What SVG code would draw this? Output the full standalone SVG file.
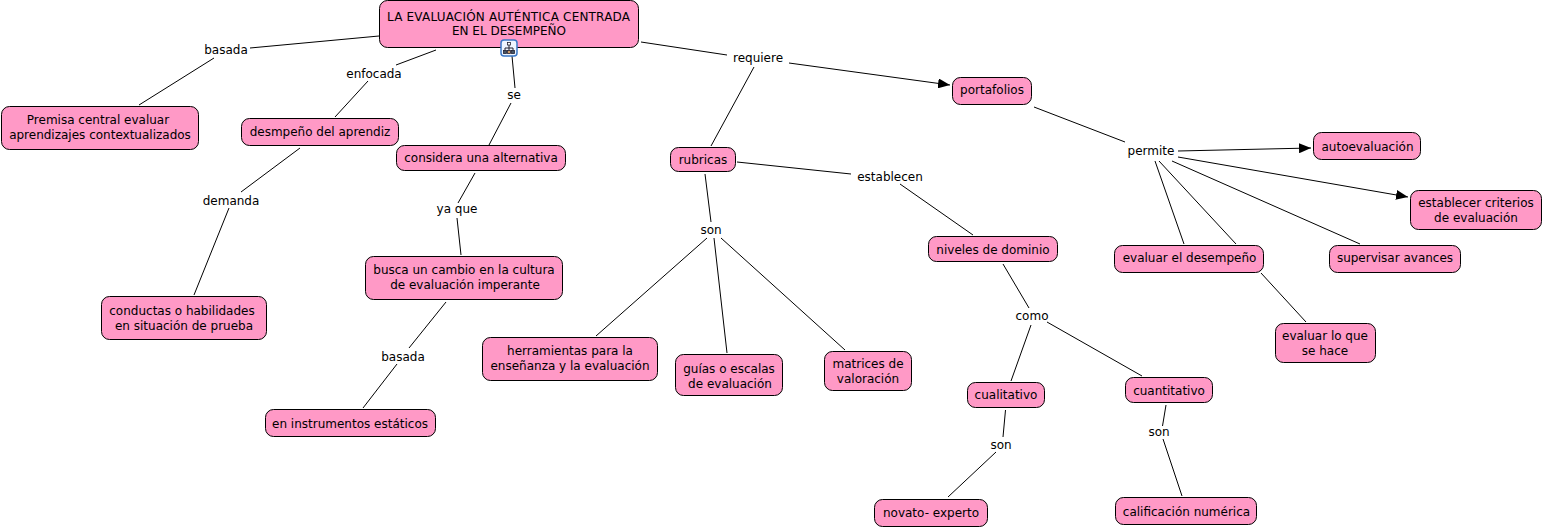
<svg xmlns="http://www.w3.org/2000/svg" width="1543" height="529" viewBox="0 0 1543 529">
<style>
text{font-family:"DejaVu Sans",Verdana,sans-serif;font-size:12px;fill:#000;text-anchor:middle}
.n rect{fill:#ff99c6;stroke:#000;stroke-width:1}
#connectors line{stroke:#000;stroke-width:1;fill:none}
.a{marker-end:url(#arr)}
</style>
<defs><marker id="arr" markerUnits="userSpaceOnUse" markerWidth="12" markerHeight="10" refX="12" refY="5" orient="auto"><path d="M0 0L12 5L0 10Z" fill="#000"/></marker></defs>
<rect width="1543" height="529" fill="#fff"/>
<g id="connectors">
<line x1="379" y1="36" x2="250" y2="48"/><line x1="214" y1="58" x2="139" y2="105"/>
<line x1="436" y1="50" x2="396" y2="65"/><line x1="368" y1="81" x2="335" y2="117"/>
<line x1="512" y1="56" x2="515" y2="88"/><line x1="511" y1="103" x2="489" y2="145"/>
<line x1="641" y1="42" x2="727" y2="55"/><line x1="789" y1="63" x2="950" y2="85" class="a"/>
<line x1="754" y1="67" x2="711" y2="146"/>
<line x1="300" y1="148" x2="241" y2="192"/><line x1="229" y1="208" x2="194" y2="295"/>
<line x1="475" y1="173" x2="458" y2="203"/><line x1="457" y1="218" x2="461" y2="255"/>
<line x1="446" y1="302" x2="409" y2="348"/><line x1="397" y1="364" x2="363" y2="408"/>
<line x1="705" y1="174" x2="711" y2="222"/><line x1="707" y1="238" x2="596" y2="336"/><line x1="714" y1="238" x2="727" y2="353"/><line x1="721" y1="238" x2="845" y2="350"/>
<line x1="737" y1="162" x2="851" y2="174"/><line x1="900" y1="184" x2="973" y2="235"/>
<line x1="1003" y1="264" x2="1029" y2="308"/><line x1="1031" y1="325" x2="1011" y2="381"/><line x1="1047" y1="322" x2="1142" y2="376"/>
<line x1="1005.500" y1="410" x2="1003" y2="437"/><line x1="996" y1="452" x2="948" y2="497"/>
<line x1="1166" y1="405" x2="1162.500" y2="426"/><line x1="1163" y1="439" x2="1182" y2="496"/>
<line x1="1034" y1="107" x2="1125" y2="142"/>
<line x1="1178" y1="151" x2="1311" y2="148" class="a"/><line x1="1178" y1="157" x2="1408" y2="197" class="a"/>
<line x1="1155" y1="161" x2="1184" y2="244"/><line x1="1159" y1="161" x2="1236" y2="244"/><line x1="1172" y1="161" x2="1360" y2="244"/>
<line x1="1261" y1="273" x2="1306" y2="322"/>
</g>
<g id="linking-labels">
<text x="226" y="54">basada</text><text x="374" y="78">enfocada</text><text x="514" y="99">se</text><text x="758" y="62">requiere</text>
<text x="231" y="205">demanda</text><text x="457" y="213">ya que</text><text x="403" y="361">basada</text>
<text x="711" y="234">son</text><text x="890" y="181">establecen</text><text x="1032" y="320">como</text><text x="1001" y="449">son</text><text x="1159" y="436">son</text><text x="1151" y="155">permite</text>
</g>
<g id="n1" class="n"><rect x="379.500" y="0.500" width="259" height="47" rx="8"/><text x="508.500" y="21" textLength="243" lengthAdjust="spacing">LA EVALUACIÓN AUTÉNTICA CENTRADA</text><text x="509" y="35">EN EL DESEMPEÑO</text></g>
<g id="n1-icon"><rect x="501" y="40" width="16" height="16" rx="3" fill="#eef5ff" stroke="#3a78c8" stroke-width="1.500"/><path d="M509 44V48M505 52V48H513V52M509 48V52" stroke="#223" fill="none"/><rect x="507.500" y="42.500" width="3" height="2.500" fill="#fff" stroke="#223" stroke-width=".8"/><rect x="503.500" y="50.500" width="3" height="3" fill="#456" stroke="#223" stroke-width=".8"/><rect x="507.500" y="50.500" width="3" height="3" fill="#c96" stroke="#223" stroke-width=".8"/><rect x="511.500" y="50.500" width="3" height="3" fill="#456" stroke="#223" stroke-width=".8"/></g>
<g id="n2" class="n"><rect x="1.500" y="106.500" width="197" height="43" rx="8"/><text x="98" y="124">Premisa central evaluar</text><text x="100" y="139">aprendizajes contextualizados</text></g>
<g id="n3" class="n"><rect x="241.500" y="118.500" width="157" height="27" rx="8"/><text x="320" y="136">desmpeño del aprendiz</text></g>
<g id="n4" class="n"><rect x="396.500" y="145.500" width="169" height="25" rx="8"/><text x="481" y="162">considera una alternativa</text></g>
<g id="n5" class="n"><rect x="670.500" y="147.500" width="65" height="24" rx="8"/><text x="703" y="164">rubricas</text></g>
<g id="n6" class="n"><rect x="952.500" y="77.500" width="79" height="27" rx="8"/><text x="992" y="94">portafolios</text></g>
<g id="n7" class="n"><rect x="1313.500" y="132.500" width="107" height="27" rx="8"/><text x="1367.500" y="151">autoevaluación</text></g>
<g id="n8" class="n"><rect x="1410.500" y="190.500" width="131" height="39" rx="8"/><text x="1476" y="207">establecer criterios</text><text x="1476" y="222">de evaluación</text></g>
<g id="n9" class="n"><rect x="1114.500" y="245.500" width="149" height="27" rx="8"/><text x="1189.500" y="262">evaluar el desempeño</text></g>
<g id="n10" class="n"><rect x="1329.500" y="245.500" width="131" height="27" rx="8"/><text x="1395" y="262">supervisar avances</text></g>
<g id="n11" class="n"><rect x="1275.500" y="323.500" width="100" height="39" rx="8"/><text x="1325" y="340">evaluar lo que</text><text x="1325" y="355">se hace</text></g>
<g id="n12" class="n"><rect x="928.500" y="236.500" width="129" height="25" rx="8"/><text x="993" y="254">niveles de dominio</text></g>
<g id="n13" class="n"><rect x="101.500" y="296.500" width="165" height="43" rx="8"/><text x="182" y="315">conductas o habilidades</text><text x="184" y="330">en situación de prueba</text></g>
<g id="n14" class="n"><rect x="365.500" y="256.500" width="197" height="43" rx="8"/><text x="464" y="274">busca un cambio en la cultura</text><text x="465" y="289">de evaluación imperante</text></g>
<g id="n15" class="n"><rect x="265.500" y="409.500" width="170" height="27" rx="8"/><text x="350" y="428">en instrumentos estáticos</text></g>
<g id="n16" class="n"><rect x="482.500" y="337.500" width="175" height="43" rx="8"/><text x="570" y="355">herramientas para la</text><text x="570" y="370">enseñanza y la evaluación</text></g>
<g id="n17" class="n"><rect x="675.500" y="354.500" width="107" height="41" rx="8"/><text x="729" y="373">guías o escalas</text><text x="730" y="388">de evaluación</text></g>
<g id="n18" class="n"><rect x="824.500" y="351.500" width="87" height="39" rx="8"/><text x="868" y="368">matrices de</text><text x="868" y="383">valoración</text></g>
<g id="n19" class="n"><rect x="967.500" y="382.500" width="77" height="25" rx="8"/><text x="1006" y="399">cualitativo</text></g>
<g id="n20" class="n"><rect x="1125.500" y="377.500" width="87" height="25" rx="8"/><text x="1169" y="395">cuantitativo</text></g>
<g id="n21" class="n"><rect x="874.500" y="499.500" width="113" height="27" rx="8"/><text x="931" y="517">novato- experto</text></g>
<g id="n22" class="n"><rect x="1115.500" y="497.500" width="141" height="27" rx="8"/><text x="1186.500" y="516">calificación numérica</text></g>
</svg>
